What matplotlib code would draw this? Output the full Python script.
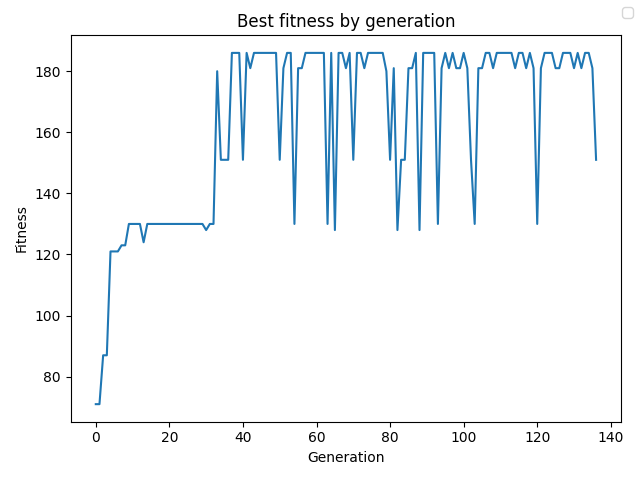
import matplotlib
matplotlib.use("Agg")
import matplotlib.pyplot as plt
import numpy as np

best_fitness = (
    [71, 71, 87, 87, 121, 121, 121, 123, 123, 130, 130, 130, 130, 124]
    + [130] * 16
    + [128, 130, 130, 180, 151, 151, 151, 186, 186, 186, 151, 186, 181]
    + [186] * 7
    + [151, 181, 186, 186, 130, 181, 181]
    + [186] * 6
    + [130, 186, 128, 186, 186, 181, 186, 151, 186, 186, 181]
    + [186] * 5
    + [180, 151, 181, 128, 151, 151, 181, 181, 186, 128]
    + [186] * 4
    + [130, 181, 186, 181, 186, 181, 181, 186, 181, 151, 130, 181, 181, 186, 186, 181]
    + [186] * 5
    + [181, 186, 186, 181, 186, 181, 130, 181, 186, 186, 186, 181, 181,
       186, 186, 186, 181, 186, 181, 186, 186, 181, 151]
)
generations = np.arange(len(best_fitness))

fig, ax = plt.subplots(figsize=(6.4, 4.8), dpi=100)
ax.plot(generations, best_fitness)
ax.set_title("Best fitness by generation")
ax.set_xlabel("Generation")
ax.set_ylabel("Fitness")
fig.tight_layout()
fig.subplots_adjust(top=fig.subplotpars.top + 2 / 480)
fig.legend()
fig.savefig("out.png")
